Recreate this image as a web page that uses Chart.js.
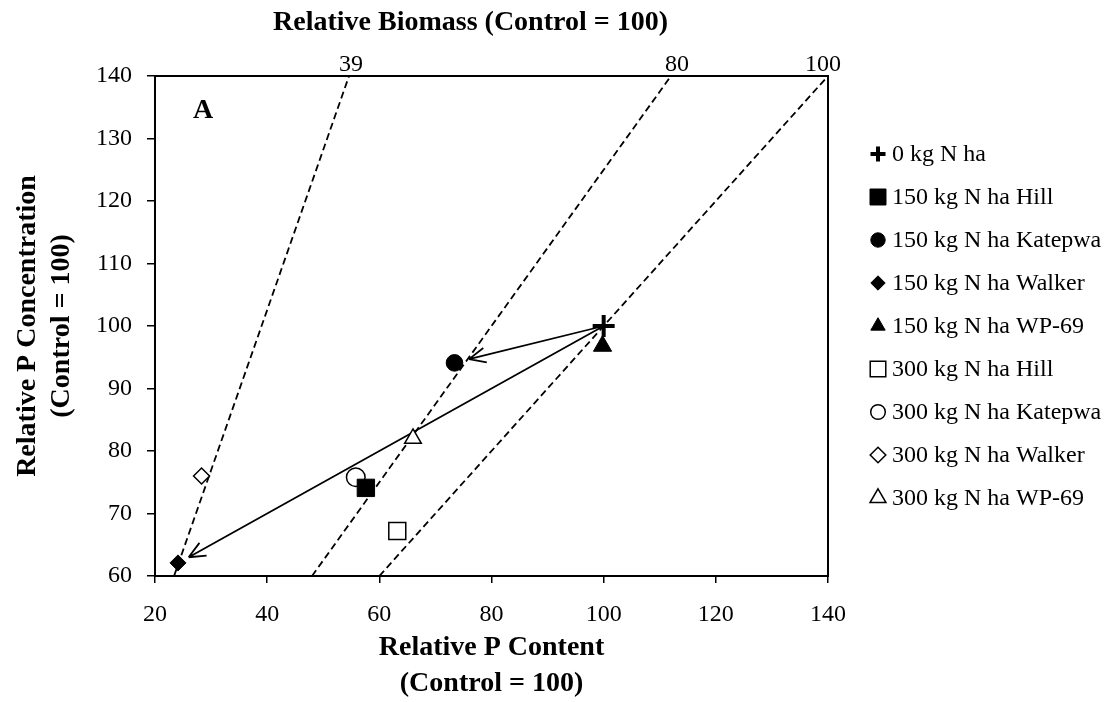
<!DOCTYPE html>
<html>
<head>
<meta charset="utf-8">
<script src="https://cdn.jsdelivr.net/npm/chart.js@4.4.1/dist/chart.umd.min.js"></script>
<style>
  body { margin: 0; background: #fff; }
  #wrap { width: 1120px; height: 702px; }
</style>
</head>
<body>
<div id="wrap"><canvas id="myChart"></canvas></div>
<script>
const seriesNames = [
  "0 kg N ha",
  "150 kg N ha Hill",
  "150 kg N ha Katepwa",
  "150 kg N ha Walker",
  "150 kg N ha WP-69",
  "300 kg N ha Hill",
  "300 kg N ha Katepwa",
  "300 kg N ha Walker",
  "300 kg N ha WP-69",
];
const pContent = [100, 57.6, 73.4, 24.1, 99.8, 63.2, 55.8, 28.3, 66.0];
const pConcentration = [100, 74.1, 94.1, 62.1, 96.8, 67.2, 75.8, 76.0, 82.0];

// relative biomass isolines, given by the P content where each meets conc 60 and conc 140
const biomassLevels = [39, 80, 100];
const isoContentLow = [23.4, 48, 60];
const isoContentHigh = [54.6, 112, 140];

// arrows from the control out to 150 kg Katepwa and 150 kg Walker
const arrowStart = { x: 100, y: 100 };
const arrowEnds = [
  { x: 76, y: 94.7 },
  { x: 26, y: 63 },
];

const xTicks = [20, 40, 60, 80, 100, 120, 140];
const yTicks = [60, 70, 80, 90, 100, 110, 120, 130, 140];

const SERIF = '"Liberation Serif", "Times New Roman", serif';

// nudges for the isoline values above the frame (px)
const isoLabelShift = [2, 6, -5];

// marker look for each series (plot + legend)
const markerStyles = [
  { pointStyle: "cross", radius: 11, fill: "#000", borderWidth: 4, legendRadius: 7.5 },
  { pointStyle: "rect", radius: 12.3, fill: "#000", borderWidth: 1, legendRadius: 11.3 },
  { pointStyle: "circle", radius: 8.3, fill: "#000", borderWidth: 1, legendRadius: 7.2 },
  { pointStyle: "rectRot", radius: 8, fill: "#000", borderWidth: 1, legendRadius: 7.2 },
  { pointStyle: "triangle", radius: 10.5, fill: "#000", borderWidth: 1, legendRadius: 8.3 },
  { pointStyle: "rect", radius: 12, fill: "#fff", borderWidth: 1.5, legendRadius: 11 },
  { pointStyle: "circle", radius: 9.3, fill: "#fff", borderWidth: 1.5, legendRadius: 7.3 },
  { pointStyle: "rectRot", radius: 8, fill: "#fff", borderWidth: 1.5, legendRadius: 7.8 },
  { pointStyle: "triangle", radius: 9.6, fill: "#fff", borderWidth: 1.5, legendRadius: 9.2 },
];

let dataset_list = [];

for (let i = 0; i < seriesNames.length; i++) {
  const m = markerStyles[i];
  dataset_list.push({
    label: seriesNames[i],
    data: [{ x: pContent[i], y: pConcentration[i] }],
    pointStyle: m.pointStyle,
    pointRadius: m.radius,
    pointHoverRadius: m.radius,
    backgroundColor: m.fill,
    borderColor: "#000",
    borderWidth: m.borderWidth,
    legendRadius: m.legendRadius,
  });
}

for (let i = 0; i < biomassLevels.length; i++) {
  dataset_list.push({
    label: "Biomass " + biomassLevels[i],
    data: [
      { x: isoContentLow[i], y: 60 },
      { x: isoContentHigh[i], y: 140 },
    ],
    showLine: true,
    borderColor: "#000",
    borderWidth: 1.8,
    borderDash: [7, 4],
    pointRadius: 0,
    fill: false,
  });
}

// arrows, titles, isoline values and the legend
const extras = {
  id: "extras",
  beforeDatasetsDraw(chart) {
    const ctx = chart.ctx;
    const xs = chart.scales.x;
    const ys = chart.scales.y;
    const x0 = xs.getPixelForValue(arrowStart.x);
    const y0 = ys.getPixelForValue(arrowStart.y);
    ctx.save();
    ctx.strokeStyle = "#000";
    ctx.lineWidth = 1.8;
    for (const end of arrowEnds) {
      const x1 = xs.getPixelForValue(end.x);
      const y1 = ys.getPixelForValue(end.y);
      const ang = Math.atan2(y1 - y0, x1 - x0);
      ctx.beginPath();
      ctx.moveTo(x0, y0);
      ctx.lineTo(x1, y1);
      for (const side of [-1, 1]) {
        ctx.moveTo(x1, y1);
        ctx.lineTo(
          x1 - 18 * Math.cos(ang + side * 0.42),
          y1 - 18 * Math.sin(ang + side * 0.42)
        );
      }
      ctx.stroke();
    }
    ctx.restore();
  },
  afterDraw(chart) {
    const ctx = chart.ctx;
    const area = chart.chartArea;
    const xs = chart.scales.x;
    ctx.save();
    ctx.fillStyle = "#000";

    ctx.font = "bold 28px " + SERIF;
    ctx.textAlign = "center";
    ctx.textBaseline = "middle";
    ctx.fillText("Relative Biomass (Control = 100)", (area.left + area.right) / 2 - 21, 23);

    ctx.font = "24px " + SERIF;
    ctx.textBaseline = "alphabetic";
    for (let i = 0; i < biomassLevels.length; i++) {
      const lx = xs.getPixelForValue(isoContentHigh[i]) + isoLabelShift[i];
      ctx.fillText(String(biomassLevels[i]), lx, area.top - 5);
    }

    ctx.font = "bold 28px " + SERIF;
    ctx.textBaseline = "middle";
    ctx.fillText("A", area.left + 48, area.top + 35);

    // legend
    const mid = (area.top + area.bottom) / 2;
    const n = seriesNames.length;
    ctx.font = "24px " + SERIF;
    ctx.textAlign = "left";
    for (let i = 0; i < n; i++) {
      const ds = chart.data.datasets[i];
      const y = mid + (i - (n - 1) / 2) * 43;
      const bx = area.right + 50;
      ctx.fillStyle = ds.backgroundColor;
      ctx.strokeStyle = "#000";
      ctx.lineWidth = ds.borderWidth;
      Chart.helpers.drawPoint(ctx, {
        pointStyle: ds.pointStyle,
        radius: ds.legendRadius,
        borderWidth: ds.borderWidth,
        rotation: 0,
      }, bx, y);
      ctx.fillStyle = "#000";
      ctx.fillText(ds.label, bx + 14, y + 1);
    }
    ctx.restore();
  },
};

const ctx = document.getElementById("myChart").getContext("2d");

var myChart = new Chart(ctx, {
  type: "scatter",
  data: {
    datasets: dataset_list,
  },
  options: {
    responsive: true,
    maintainAspectRatio: false,
    animation: false,
    layout: {
      padding: { left: 0, right: 292, top: 0, bottom: 0 },
    },
    plugins: {
      legend: { display: false },
      tooltip: { enabled: false },
    },
    scales: {
      x: {
        type: "linear",
        position: "bottom",
        min: 20,
        max: 140,
        afterBuildTicks: (s) => { s.ticks = xTicks.map((v) => ({ value: v })); },
        afterFit: (s) => { s.height = 126; },
        grid: { drawOnChartArea: false, tickLength: 7, color: "#000", lineWidth: 1.5 },
        border: { color: "#000", width: 2 },
        ticks: { color: "#000", font: { family: SERIF, size: 24 }, padding: 17, maxRotation: 0 },
        title: {
          display: true,
          text: ["Relative P Content", "(Control = 100)"],
          color: "#000",
          font: { family: SERIF, size: 28, weight: "bold", lineHeight: 1.3 },
          padding: { top: 0, bottom: 0 },
        },
      },
      y: {
        type: "linear",
        position: "left",
        min: 60,
        max: 140,
        afterBuildTicks: (s) => { s.ticks = yTicks.map((v) => ({ value: v })); },
        afterFit: (s) => { s.width = 155; },
        grid: { drawOnChartArea: false, tickLength: 8, color: "#000", lineWidth: 1.5 },
        border: { color: "#000", width: 2 },
        ticks: { color: "#000", font: { family: SERIF, size: 24 }, padding: 15 },
        title: {
          display: true,
          text: ["Relative P Concentration", "(Control = 100)"],
          color: "#000",
          font: { family: SERIF, size: 28, weight: "bold", lineHeight: 1.2 },
          padding: { top: 11, bottom: 0 },
        },
      },
      x2: {
        type: "linear",
        position: "top",
        min: 20,
        max: 140,
        afterFit: (s) => { s.height = 76; },
        grid: { display: false },
        border: { display: true, color: "#000", width: 2 },
        ticks: { display: false },
      },
      y2: {
        type: "linear",
        position: "right",
        min: 60,
        max: 140,
        afterFit: (s) => { s.width = 0; },
        grid: { display: false },
        border: { display: true, color: "#000", width: 2 },
        ticks: { display: false },
      },
    },
  },
  plugins: [extras],
});
</script>
</body>
</html>
